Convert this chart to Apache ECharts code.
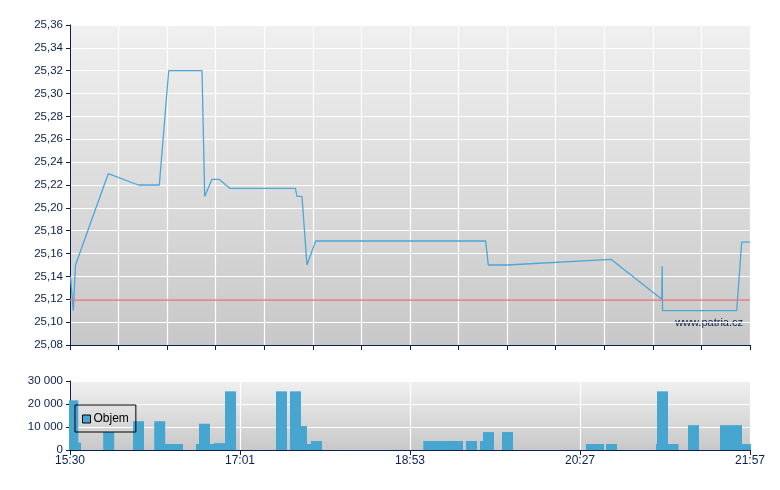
<!DOCTYPE html>
<html>
<head>
<meta charset="utf-8">
<script src="https://cdn.jsdelivr.net/npm/echarts@6/dist/echarts.min.js"></script>
<style>
  html, body { margin: 0; padding: 0; background: #fff; }
  #chart { width: 780px; height: 490px; }
</style>
</head>
<body>
<div id="chart"></div>
<script>
// x is a trade slot index 0..140 (the time axis is not linear in clock time)
var timeLabels = ['15:30', '17:01', '18:53', '20:27', '21:57'];

// cena
var priceX = [0.10, 0.41, 0.68, 1.13, 7.89, 14.06, 18.39, 20.32, 27.18, 27.73, 29.24, 30.68, 32.94,
    46.39, 46.74, 47.76, 48.79, 50.58, 85.58, 86.12, 90.03, 111.38, 121.82, 121.92, 122.00,
    137.26, 138.29, 140.00];
var priceY = [25.14, 25.14, 25.11, 25.15, 25.23, 25.22, 25.22, 25.32, 25.32, 25.21, 25.225, 25.225, 25.217,
    25.217, 25.21, 25.21, 25.15, 25.171, 25.171, 25.15, 25.15, 25.155, 25.12, 25.149, 25.11,
    25.11, 25.17, 25.17];
var prevClose = 25.12;

// objem
var volX = [0.58, 1.13, 7.97, 14.10, 18.47, 20.69, 22.13, 27.07, 27.69, 28.72, 30.82, 33.04,
    43.54, 46.42, 47.66, 48.59, 50.75, 73.87, 75.97, 78.03, 79.78, 82.66, 85.54, 86.16, 90.07,
    107.37, 108.81, 111.49, 121.79, 121.99, 124.15, 128.37, 134.96, 137.22, 139.49];
var volY = [21600, 3200, 7800, 12500, 12500, 2600, 2600, 2600, 11400, 2600, 3000, 25500,
    25500, 25500, 10400, 2600, 3900, 3900, 3900, 3900, 3900, 3900, 3900, 7800, 7800,
    2600, 2600, 2600, 2600, 25500, 2600, 10800, 10800, 10800, 2600];

var priceData = priceX.map(function (x, i) { return [x, priceY[i]]; });
var volData = volX.map(function (x, i) { return [x, volY[i]]; });

var navy = '#0c2050';
var font = 'Liberation Sans, Arial, sans-serif';
var bg = {
    type: 'linear', x: 0, y: 0, x2: 0, y2: 1,
    colorStops: [{ offset: 0, color: '#f0f0f0' }, { offset: 1, color: '#c8c8c8' }]
};

var chart = echarts.init(document.getElementById('chart'));
chart.setOption({
    animation: false,
    backgroundColor: '#fff',
    textStyle: { fontFamily: font },
    grid: [
        { left: 70, right: 30, top: 25, height: 320, show: true, backgroundColor: bg, borderWidth: 0 },
        { left: 70, right: 30, top: 381, height: 69, show: true, backgroundColor: bg, borderWidth: 0 }
    ],
    legend: {
        data: ['Objem'],
        left: 75, top: 405,
        orient: 'vertical',
        icon: 'rect',
        itemWidth: 8, itemHeight: 8, itemGap: 0,
        padding: [8, 7, 7, 7],
        borderColor: '#000', borderWidth: 1, borderRadius: 0,
        itemStyle: { borderColor: '#000', borderWidth: 1 },
        textStyle: { color: '#000', fontSize: 12, fontFamily: font, padding: [0, 0, 0, -2] }
    },
    graphic: [{
        type: 'text', right: 37, top: 317,
        style: { text: 'www.patria.cz', fill: navy, font: '11px ' + font }
    }],
    xAxis: [
        {
            type: 'value', gridIndex: 0, min: 0, max: 140, interval: 10,
            axisLine: { lineStyle: { color: navy } },
            axisTick: { length: 5, lineStyle: { color: navy } },
            axisLabel: { show: false },
            splitLine: { lineStyle: { color: '#fff', width: 1.2 } }
        },
        {
            type: 'value', gridIndex: 1, min: 0, max: 140, interval: 35,
            axisLine: { lineStyle: { color: navy } },
            axisTick: { length: 5, lineStyle: { color: navy } },
            axisLabel: {
                color: navy, fontSize: 12, margin: 5,
                formatter: function (v) { return timeLabels[Math.round(v / 35)]; }
            },
            splitLine: { lineStyle: { color: '#fff', width: 1.2 } }
        }
    ],
    yAxis: [
        {
            type: 'value', gridIndex: 0, min: 25.08, max: 25.36, interval: 0.02,
            axisLine: { show: true, lineStyle: { color: navy } },
            axisTick: { show: true, length: 4, lineStyle: { color: navy } },
            axisLabel: {
                color: navy, fontSize: 11.5, margin: 7,
                formatter: function (v) { return v.toFixed(2).replace('.', ','); }
            },
            splitLine: { lineStyle: { color: '#fff', width: 1.2 } }
        },
        {
            type: 'value', gridIndex: 1, min: 0, max: 30000, interval: 10000,
            axisLine: { show: true, lineStyle: { color: navy } },
            axisTick: { show: true, length: 4, lineStyle: { color: navy } },
            axisLabel: {
                color: navy, fontSize: 11.5, margin: 7,
                formatter: function (v) { return String(v).replace(/\B(?=(\d{3})+(?!\d))/g, ' '); }
            },
            splitLine: { lineStyle: { color: '#fff', width: 1.2 } }
        }
    ],
    series: [
        {
            name: 'Cena', type: 'line', xAxisIndex: 0, yAxisIndex: 0,
            data: priceData, showSymbol: false, symbol: 'none',
            lineStyle: { color: '#4ba7d6', width: 1.3 },
            itemStyle: { color: '#4ba7d6' },
            markLine: {
                silent: true, symbol: 'none', label: { show: false },
                lineStyle: { color: '#e07878', width: 1.5, type: 'solid' },
                data: [{ yAxis: prevClose }]
            },
            z: 3
        },
        {
            name: 'Objem', type: 'bar', xAxisIndex: 1, yAxisIndex: 1,
            data: volData, barWidth: 11, clip: true,
            itemStyle: { color: '#46a6d0' }
        }
    ]
});
</script>
</body>
</html>
